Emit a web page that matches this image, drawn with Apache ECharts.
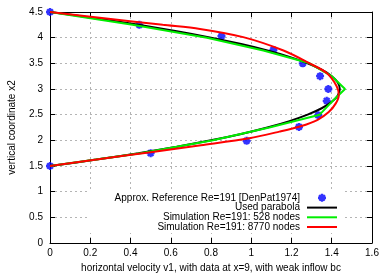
<!DOCTYPE html>
<html><head><meta charset="utf-8">
<script src="https://cdn.jsdelivr.net/npm/echarts@6/dist/echarts.min.js"></script>
<style>html,body{margin:0;padding:0;background:#fff}#c{width:390px;height:273px}</style>
</head><body><div id="c"></div>
<script>
// Reference data (blue stars)
const refV1 = [0, 0.50, 0.977, 1.237, 1.333, 1.375, 1.383, 1.342, 1.256, 1.11, 0.852, 0.444, 0];
const refX2 = [1.5, 1.75, 1.99, 2.26, 2.49, 2.77, 3.0, 3.25, 3.5, 3.76, 4.03, 4.25, 4.5];
// Used parabola (black)
const parV1 = [0, 0.23, 0.44, 0.63, 0.80, 0.95, 1.08, 1.19, 1.28, 1.35, 1.40, 1.43, 1.44, 1.43, 1.40, 1.35, 1.28, 1.19, 1.08, 0.95, 0.80, 0.63, 0.44, 0.23, 0];
const parX2 = [1.5, 1.625, 1.75, 1.875, 2.0, 2.125, 2.25, 2.375, 2.5, 2.625, 2.75, 2.875, 3.0, 3.125, 3.25, 3.375, 3.5, 3.625, 3.75, 3.875, 4.0, 4.125, 4.25, 4.375, 4.5];
// Simulation 528 nodes (green)
const g528V1 = [0, 0.45, 0.81, 1.09, 1.34, 1.40, 1.466, 1.40, 1.29, 1.06, 0.78, 0.41, 0];
const g528X2 = [1.5, 1.75, 2.0, 2.25, 2.5, 2.75, 3.0, 3.25, 3.5, 3.75, 4.0, 4.25, 4.5];
// Simulation 8770 nodes (red)
const r8770V1 = [0, 0.25, 0.5, 0.75, 0.99, 1.14, 1.25, 1.33, 1.385, 1.42, 1.435, 1.425, 1.375, 1.29, 1.16, 0.96, 0.745, 0.56, 0.28, 0];
const r8770X2 = [1.5, 1.635, 1.77, 1.905, 2.04, 2.17, 2.28, 2.40, 2.55, 2.72, 2.88, 3.05, 3.31, 3.5, 3.75, 4.01, 4.17, 4.25, 4.375, 4.5];

const xTicks = {min: 0, max: 1.6, interval: 0.2};
const yTicks = {min: 0, max: 4.5, interval: 0.5};

const names = ['Approx. Reference Re=191 [DenPat1974]', 'Used parabola', 'Simulation Re=191: 528 nodes', 'Simulation Re=191: 8770 nodes'];

function pairs(xs, ys){ return xs.map((v,i)=>[v, ys[i]]); }

const FONT = 'Liberation Sans, Arial, sans-serif';
const gridLine = {show: true, lineStyle: {color: '#b4b4b4', width: 1, type: [2, 3]}};
const chart = echarts.init(document.getElementById('c'), null, {renderer: 'canvas'});
const starPath = 'path://M0,5L10,5M5,0L5,10M1.5,1.5L8.5,8.5M8.5,1.5L1.5,8.5';
const lineIcon = 'path://M0,0L30,0L30,2L0,2Z';
const starStyle = {color: 'rgba(0,0,0,0)', borderColor: '#0000ff', borderWidth: 2.3, borderCap: 'butt'};

chart.setOption({
  animation: false,
  backgroundColor: '#fff',
  textStyle: {fontFamily: FONT},
  grid: {left: 50, right: 18, top: 12, bottom: 30, outerBoundsMode: 'none', containLabel: false},
  xAxis: [{
    type: 'value', min: xTicks.min, max: xTicks.max, interval: xTicks.interval,
    name: 'horizontal velocity v1, with data at x=9, with weak inflow bc',
    nameLocation: 'middle', nameGap: 19,
    nameTextStyle: {fontSize: 10, color: '#000', fontFamily: FONT},
    axisLine: {show: true, onZero: false, lineStyle: {color: '#000', width: 1}},
    axisTick: {show: true, inside: true, length: 5, lineStyle: {color: '#000'}},
    axisLabel: {fontSize: 10, color: '#000', margin: 5, fontFamily: FONT},
    splitLine: gridLine
  }, {
    type: 'value', position: 'top', min: xTicks.min, max: xTicks.max, interval: xTicks.interval,
    axisLine: {show: true, onZero: false, lineStyle: {color: '#000', width: 1}},
    axisTick: {show: true, inside: true, length: 5, lineStyle: {color: '#000'}},
    axisLabel: {show: false}, splitLine: {show: false}
  }],
  yAxis: [{
    type: 'value', min: yTicks.min, max: yTicks.max, interval: yTicks.interval,
    name: 'vertical coordinate x2', nameLocation: 'middle', nameGap: 33, nameRotate: 90,
    nameTextStyle: {fontSize: 10, color: '#000', fontFamily: FONT},
    axisLine: {show: true, onZero: false, lineStyle: {color: '#000', width: 1}},
    axisTick: {show: true, inside: true, length: 5, lineStyle: {color: '#000'}},
    axisLabel: {fontSize: 10, color: '#000', margin: 7, fontFamily: FONT},
    splitLine: gridLine
  }, {
    type: 'value', position: 'right', min: yTicks.min, max: yTicks.max, interval: yTicks.interval,
    axisLine: {show: true, onZero: false, lineStyle: {color: '#000', width: 1}},
    axisTick: {show: true, inside: true, length: 5, lineStyle: {color: '#000'}},
    axisLabel: {show: false}, splitLine: {show: false}
  }],
  legend: {
    orient: 'vertical', align: 'right', right: 47, bottom: 40,
    backgroundColor: '#fff', padding: [2, 6, 1, 4],
    itemWidth: 30, itemHeight: 8, itemGap: -0.3,
    data: [
      {name: names[0], icon: starPath, itemStyle: starStyle},
      {name: names[1], icon: lineIcon, itemStyle: {color: '#000', borderWidth: 0}},
      {name: names[2], icon: lineIcon, itemStyle: {color: '#00ee00', borderWidth: 0}},
      {name: names[3], icon: lineIcon, itemStyle: {color: '#ff0000', borderWidth: 0}}
    ],
    formatter: n => '{t|' + n + '}',
    textStyle: {fontSize: 10, color: '#000', fontFamily: FONT,
      rich: {t: {width: 208, align: 'right', fontSize: 10, lineHeight: 8, color: '#000', fontFamily: FONT, padding: [0, 2, 0, 0]}}}
  },
  series: [{
    name: names[0], type: 'scatter', data: pairs(refV1, refX2),
    symbol: starPath, symbolSize: 8,
    itemStyle: starStyle
  }, {
    name: names[1], type: 'line', data: pairs(parV1, parX2), smooth: 0.3,
    symbol: 'none', lineStyle: {color: '#000', width: 2}, itemStyle: {color: '#000'}
  }, {
    name: names[2], type: 'line', data: pairs(g528V1, g528X2),
    symbol: 'none', lineStyle: {color: '#00ee00', width: 2}, itemStyle: {color: '#00ee00'}
  }, {
    name: names[3], type: 'line', data: pairs(r8770V1, r8770X2), smooth: 0.3,
    symbol: 'none', lineStyle: {color: '#ff0000', width: 2}, itemStyle: {color: '#ff0000'}
  }]
});
</script></body></html>
